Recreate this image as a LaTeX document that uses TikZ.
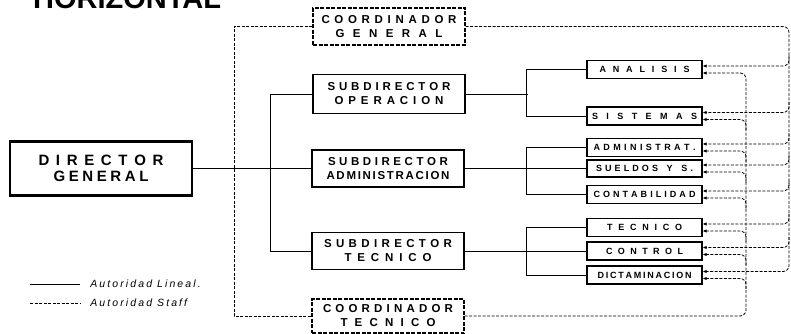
\documentclass[tikz,border=0pt]{standalone}
\usepackage{fontspec}
\setmainfont{Liberation Sans}
\usetikzlibrary{arrows.meta,calc}

% letters spread evenly over a fixed width
\ExplSyntaxOn
\NewDocumentCommand \spreadtext { m m }
  { \hbox_to_wd:nn {#1} { \tl_map_inline:nn {#2} { ##1 \hfill } \unskip } }
\ExplSyntaxOff

\tikzset{
  subbox/.style={draw, line width=1.3pt, minimum width=152pt, minimum height=37pt,
    inner sep=0pt, align=center, font=\bfseries\fontsize{11.5}{14}\selectfont},
  coordbox/.style={subbox, dash pattern=on 4pt off 1.5pt},
  dept/.style={draw, line width=1.2pt, minimum width=115pt, minimum height=18pt,
    inner sep=0pt, font=\bfseries\fontsize{9}{10}\selectfont},
  lineal/.style={line width=0.8pt},
  staff/.style={line width=0.8pt, dash pattern=on 3pt off 1.5pt},
  tostaff/.style={staff, -{Latex[length=4pt,width=3.5pt]}, rounded corners=6pt},
  legend/.style={anchor=west, inner sep=0pt, xshift=10pt,
    font=\itshape\fontsize{10.5}{12}\selectfont\addfontfeature{LetterSpace=20}},
}

\begin{document}
\begin{tikzpicture}[x=1pt,y=-1pt]
\path[use as bounding box, clip] (0,0) rectangle (791,334);

% ===== Titulo =====
\node[anchor=base west, inner sep=0pt, font=\bfseries\fontsize{29}{30}\selectfont] (ttl) at (33,9) {HORIZONTAL};

% ===== Cajas centrales =====
\node[draw, line width=2.5pt, minimum width=182pt, minimum height=54pt, inner sep=0pt,
  align=center, font=\bfseries\fontsize{15}{16}\selectfont] (dg) at (101,168.5)
  {\spreadtext{125pt}{DIRECTOR}\\\spreadtext{95pt}{GENERAL}};

\node[coordbox] (cgen) at (389,26.5) {\spreadtext{135pt}{COORDINADOR}\\\spreadtext{107pt}{GENERAL}};
\node[subbox, minimum height=39pt] (sop) at (389,94) {\spreadtext{123pt}{SUBDIRECTOR}\\\spreadtext{109pt}{OPERACION}};
\node[subbox] (sadm) at (388,168.5) {\spreadtext{120pt}{SUBDIRECTOR}\\\spreadtext{123pt}{ADMINISTRACION}};
\node[subbox] (stec) at (388,251) {\spreadtext{128pt}{SUBDIRECTOR}\\\spreadtext{87pt}{TECNICO}};
\node[coordbox, minimum height=34pt] (ctec) at (388,316) {\spreadtext{130pt}{COORDINADOR}\\\spreadtext{95pt}{TECNICO}};

% ===== Departamentos =====
\node[dept] (ana) at (644.5,69.5) {\spreadtext{90pt}{ANALISIS}};
\node[dept] (sis) at (644.5,116) {\spreadtext{105pt}{SISTEMAS}};
\node[dept] (adm) at (644.5,147.5) {\spreadtext{102pt}{ADMINISTRAT.}};
\node[dept, minimum height=17pt] (sue) at (644.5,168.5) {\spreadtext{97pt}{SUELDOS~Y~S.}};
\node[dept] (con) at (644.5,194.5) {\spreadtext{102pt}{CONTABILIDAD}};
\node[dept] (tec) at (644.5,227.5) {\spreadtext{75pt}{TECNICO}};
\node[dept] (ctl) at (644.5,251) {\spreadtext{77pt}{CONTROL}};
\node[dept] (dic) at (644.5,275) {\spreadtext{94pt}{DICTAMINACION}};

% ===== Autoridad lineal =====
\draw[lineal] (dg.east) -- (sadm.west);
\draw[lineal] (sop.west) -- ++(-42,0) |- (stec.west);
\draw[lineal] (sop.east) -- ++(62,0);
\draw[lineal] (ana.west) -- ++(-60,0) |- (sis.west);
\draw[lineal] (sadm.east) -- (sue.west);
\draw[lineal] (adm.west) -- ++(-60,0) |- (con.west);
\draw[lineal] (stec.east) -- (ctl.west);
\draw[lineal] (tec.west) -- ++(-60,0) |- (dic.west);

% ===== Autoridad staff =====
\draw[staff] (cgen.west) -- ++(-78,0) |- (ctec.west);

\coordinate (stfa) at (789,26.5);
\coordinate (stfb) at (746,316);
\draw[tostaff] (cgen.east) -- (stfa) |- ([yshift=3.5pt]dic.east);
\foreach \b in {ana,sis,adm,sue,con,tec,ctl}
  \draw[tostaff] ($(\b.east -| stfa)+(0,-14)$) |- ([yshift=3.5pt]\b.east);
\draw[tostaff] (ctec.east) -- (stfb) |- ([yshift=-3.5pt]ana.east);
\foreach \b in {sis,adm,sue,con,tec,ctl,dic}
  \draw[tostaff] ($(\b.east -| stfb)+(0,14)$) |- ([yshift=-3.5pt]\b.east);

% ===== Leyenda =====
\coordinate (lgl) at (30,284);
\coordinate (lgs) at (30,303);
\draw[lineal] (lgl) -- ++(50,0) node[legend] (tll) {Autoridad Lineal.};
\draw[staff] (lgs) -- ++(50,0) node[legend] (tls) {Autoridad Staff};

\end{tikzpicture}
\end{document}
